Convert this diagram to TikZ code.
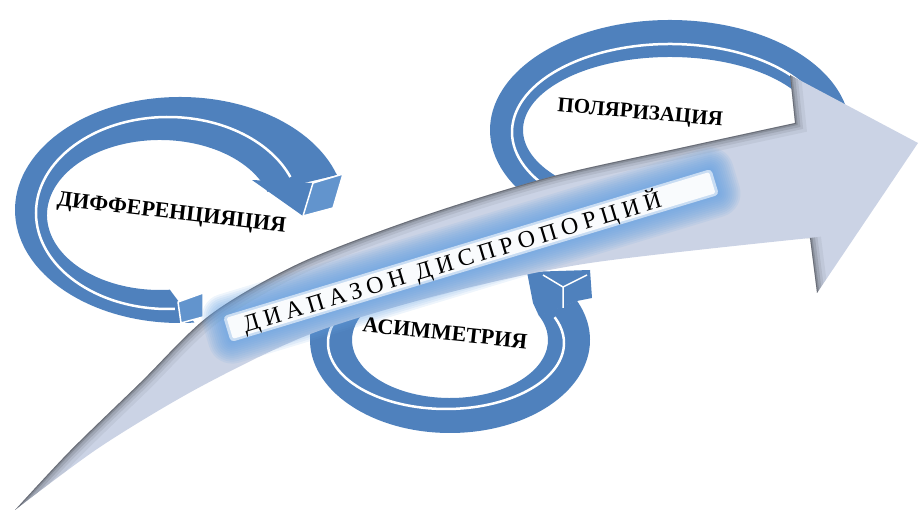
\documentclass[tikz,border=0pt]{standalone}
\usepackage{fontspec}
\setmainfont{Liberation Serif}
\newfontfamily\spacedfont[LetterSpace=22]{Liberation Serif}
\usetikzlibrary{calc}
\definecolor{ringblue}{RGB}{79,129,189}
\definecolor{faceblue}{RGB}{98,148,205}
\definecolor{arrowgrey}{RGB}{203,211,229}
\definecolor{glowblue}{RGB}{100,160,225}

\begin{document}
\begin{tikzpicture}[x=1pt, y=1pt,
        band/.style={fill=ringblue},
        face/.style={fill=faceblue, draw=white, line width=1.5pt, line join=round},
        split/.style={draw=white, line width=2.5pt},
        ringlabel/.style={font=\fontsize{22}{24}\selectfont\bfseries, inner sep=0pt}]
        \useasboundingbox (0,0) rectangle (920,513);
        % top ring (ends hidden under the big arrow)
        \fill[band] ($(670,383)+(220:180 and 110)$) arc[start angle=220, end angle=-40, x radius=180, y radius=110]
            -- ($(670,383)+(-40:147 and 73)$) arc[start angle=-40, end angle=220, x radius=147, y radius=73] -- cycle;
        \draw[split] ($(670,381)+(220:158 and 88)$) arc[start angle=220, end angle=-40, x radius=158, y radius=88];
        % left ring
        \fill[band] ($(180,303)+(275:165 and 113)$) arc[start angle=275, end angle=18, x radius=165, y radius=113]
            -- ($(160,298)+(18:113 and 75)$) arc[start angle=18, end angle=275, x radius=113, y radius=75] -- cycle;
        \draw[split] ($(168,300)+(273:132 and 96)$) arc[start angle=273, end angle=22, x radius=132, y radius=96];
        \draw[face] (178,211) -- (203,220) -- (203,196) -- (181,190) -- cycle;
        \fill[band] (252,333) -- (313,330) -- (303,297) -- cycle;
        \draw[face] (303,297) -- (313,330) -- (343,339) -- (333,305) -- cycle;
        % bottom ring
        \fill[band] ($(450,173)+(140:140 and 93)$) arc[start angle=140, end angle=385, x radius=140, y radius=93]
            -- ($(450,173)+(385:98 and 58)$) arc[start angle=385, end angle=140, x radius=98, y radius=58] -- cycle;
        \draw[split] ($(446,170)+(140:118 and 66)$) arc[start angle=140, end angle=383, x radius=118, y radius=66];
        \fill[band] (527,241) -- (590,243) -- (592,215) -- (577,212) -- (539,197) -- (533,210) -- cycle;
        \draw[split, line width=1.5pt] (543,238) -- (563,226) -- (587,238) (563,226) -- (563,205);
        % big arrow
        \def\upperedge{plot[smooth] coordinates {(15,3) (70,62) (140,130) (210,198) (300,250) (420,296) (550,336) (680,365) (795,390)}}
        \def\arrowpath{\upperedge -- (790,438) -- (918,370) -- (817,220) -- (810,275)
            -- plot[smooth] coordinates {(810,275) (590,250) (447,220) (313,180) (200,126) (100,66) (15,3)} -- cycle}
        \fill[arrowgrey] \arrowpath;
        \begin{scope}
            \clip \arrowpath;
            \foreach \w/\o in {22/0.05, 15/0.07, 10/0.1, 5/0.14, 2/0.22}
                \draw[black, line width=\w pt, opacity=\o] \upperedge -- (790,438) (817,220) -- (810,275);
        \end{scope}
        % glowing label on the arrow
        \begin{scope}[shift={(471,257.5)}, rotate=16.8]
            \foreach \d in {2,4,...,24}
                \fill[glowblue, opacity=0.11, rounded corners=\d pt] (-253-\d,-11.5-\d) rectangle (253+\d,11.5+\d);
            \fill[white, opacity=0.6, rounded corners=4pt] (-255,-13.5) rectangle (255,13.5);
            \fill[white, opacity=0.9, rounded corners=2pt] (-252,-11) rectangle (252,11);
            \node[transform shape, font=\spacedfont\fontsize{24}{26}\selectfont, inner sep=0pt] (range) at (-20,-1) {ДИАПАЗОН ДИСПРОПОРЦИЙ};
        \end{scope}
        % ring labels
        \node[ringlabel, rotate=-6.7] (diff) at (171.5,299) {ДИФФЕРЕНЦИЯЦИЯ};
        \node[ringlabel, font=\fontsize{21}{24}\selectfont\bfseries, rotate=-5] (polar) at (640,399) {ПОЛЯРИЗАЦИЯ};
        \node[ringlabel, rotate=-6] (asym) at (445,180) {АСИММЕТРИЯ};
\end{tikzpicture}
\end{document}
